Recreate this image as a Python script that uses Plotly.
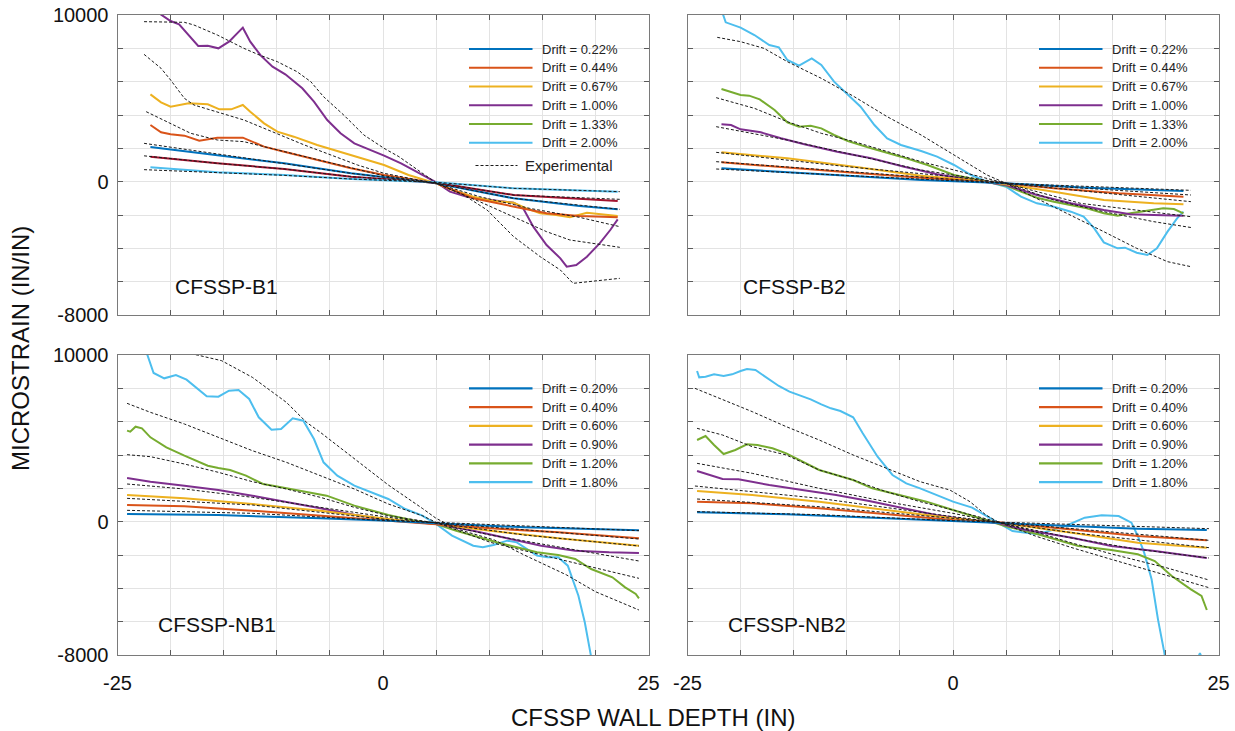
import plotly.graph_objects as go

W, H = 1235, 731

# ---------------- colours (MATLAB default order) ----------------
BLUE, ORANGE, YELLOW, PURPLE, GREEN, LBLUE, CRIMSON = (
    "#0072BD", "#D95319", "#EDB120", "#7E2F8E", "#77AC30", "#4DBEEE", "#A2142F")

# ---------------- axis ticks ----------------
X_TICKS = [-25, -20, -15, -10, -5, 0, 5, 10, 15, 20, 25]
X_LABELS = ["-25", "", "", "", "", "0", "", "", "", "", "25"]
Y_TICKS = [-8000, -6000, -4000, -2000, 0, 2000, 4000, 6000, 8000, 10000]
Y_LABELS = ["-8000", "", "", "", "0", "", "", "", "", "10000"]

# ---------------- legend labels ----------------
B_LEGEND = ["Drift = 0.22%", "Drift = 0.44%", "Drift = 0.67%",
            "Drift = 1.00%", "Drift = 1.33%", "Drift = 2.00%"]
NB_LEGEND = ["Drift = 0.20%", "Drift = 0.40%", "Drift = 0.60%",
             "Drift = 0.90%", "Drift = 1.20%", "Drift = 1.80%"]
LEGEND_COLORS = [BLUE, ORANGE, YELLOW, PURPLE, GREEN, LBLUE]

# ================= CFSSP-B1 (x = depth in, y = microstrain) =================
B1_PURPLE = [(-21.9, 10450), (-20.9, 10000), (-20, 9640), (-19.2, 9440), (-18.3, 8800),
             (-17.4, 8140), (-16.5, 8160), (-15.5, 8000), (-14.5, 8400), (-13.2, 9240),
             (-12.5, 8400), (-11.5, 7560), (-10.4, 6900), (-9.2, 6440), (-7.6, 5600),
             (-6.5, 4800), (-5.25, 3700), (-4.0, 2900), (-2.7, 2300), (-1.15, 1900),
             (0.1, 1560), (1.7, 1100), (3.8, 400), (5.06, -60), (6.3, -600), (7.9, -900),
             (10.1, -1100), (12.3, -1260), (13.2, -1600), (14.15, -2700), (15.4, -3800),
             (16.7, -4600), (17.3, -5100), (18.2, -5000), (19.2, -4500), (20.4, -3700),
             (21.4, -2900), (22.1, -2260)]
B1_YELLOW = [(-21.9, 5240), (-20.9, 4760), (-20, 4500), (-18.3, 4700), (-16.5, 4640),
             (-15.4, 4340), (-14.3, 4340), (-13.2, 4600), (-12.5, 4200), (-11.2, 3500),
             (-9.95, 3000), (-8.4, 2700), (-6.2, 2200), (-3.0, 1600), (0.1, 1000),
             (2.4, 400), (5.0, -100), (6.6, -500), (8.5, -900), (10.4, -1160),
             (12.3, -1260), (13.5, -1600), (14.8, -1900), (16.3, -2000), (17.6, -2140),
             (19.2, -1860), (20.4, -1940), (22.1, -2060)]
B1_ORANGE = [(-21.9, 3400), (-20.9, 2960), (-20, 2840), (-18.7, 2760), (-17.3, 2460),
             (-15.6, 2640), (-13.2, 2640), (-11.2, 2100), (-9.3, 1800), (-6.2, 1300),
             (-3.0, 800), (0.1, 400), (5, -100), (8.5, -1000), (12.3, -1500),
             (15.4, -1900), (18.5, -2060), (22.1, -2140)]
B1_BLUE = [(-21.9, 2080), (-15.6, 1600), (-9.3, 1100), (-3.0, 500), (5, -100),
           (12.3, -1000), (18.5, -1460), (22.1, -1660)]
B1_CRIMSON = [(-21.9, 1500), (-15.6, 1100), (-9.3, 760), (-3, 300), (5, -60),
              (12.3, -800), (22.1, -1160)]
B1_LBLUE = [(-21.9, 860), (-15.6, 560), (-9.3, 400), (-3, 160), (5, -40),
            (12.3, -400), (22.1, -600)]
B1_EXP_1 = [(-22.5, 9600), (-18.7, 9560), (-17.8, 9400), (-15.6, 8800), (-13.1, 8000),
            (-11.8, 7640), (-9.95, 7200), (-8.1, 6600), (-6.8, 6000), (-5.6, 5100),
            (-3.7, 4000), (-1.8, 2800), (0.1, 2000), (1.5, 1500), (5.06, -100),
            (7.6, -800), (9.8, -1700), (12.3, -3300), (14.8, -4500), (16.7, -5300),
            (17.9, -6100), (19.2, -6000), (22.3, -5800)]
B1_EXP_2 = [(-22.5, 7640), (-20.9, 6800), (-20, 6100), (-18.7, 5000), (-17.8, 4600),
            (-15.6, 4200), (-13.1, 3700), (-11.2, 3200), (-9.3, 2700), (-7.4, 2200),
            (-4.9, 1600), (-2.4, 1000), (0.1, 500), (5, -100), (9.1, -1200),
            (12.3, -2100), (15.4, -3000), (17.6, -3500), (22.3, -3940)]
B1_EXP_3 = [(-22.3, 4200), (-20.3, 3600), (-18.1, 2900), (-15.6, 2500), (-13.1, 2400),
            (-11.2, 2100), (-9.3, 1800), (-6.2, 1300), (-3, 800), (0.1, 350), (5, -100),
            (9.1, -900), (13.8, -1600), (18.5, -2140), (22.3, -2700)]
B1_EXP_4 = [(-22.5, 2300), (-15.6, 1650), (-9.3, 1100), (-3, 500), (5, -100),
            (12.3, -1000), (22.3, -1660)]
B1_EXP_5 = [(-22.5, 1550), (-15.6, 1100), (-9.3, 760), (-3, 300), (5, -60),
            (12.3, -800), (22.3, -1060)]
B1_EXP_6 = [(-22.5, 720), (-15.6, 560), (-9.3, 380), (-3, 160), (5, -40),
            (12.3, -400), (22.3, -600)]

# ================= CFSSP-B2 =================
B2_LBLUE = [(-21.8, 10300), (-21.4, 9560), (-20, 9240), (-18.7, 8800), (-17.3, 8200),
            (-16.4, 8060), (-15.6, 7300), (-14.5, 6960), (-13.3, 7400), (-12.4, 7000),
            (-11.2, 6000), (-9.9, 5200), (-8.7, 4500), (-7.4, 3400), (-6.2, 2600),
            (-4.9, 2200), (-3.0, 1840), (-1.5, 1500), (0.1, 1000), (1.7, 400), (3.2, 0),
            (5, -300), (6.4, -900), (7.9, -1300), (9.5, -1500), (11.1, -1800),
            (12.3, -2100), (13.3, -2800), (14.2, -3640), (15.5, -4000), (16.2, -3960),
            (17.3, -4260), (18.3, -4400), (19.2, -4000), (20.2, -3000), (21.1, -2200),
            (21.7, -1800)]
B2_GREEN = [(-21.8, 5560), (-20.9, 5360), (-20, 5200), (-19.2, 5160), (-18.2, 4940),
            (-16.8, 4300), (-15.6, 3560), (-14.5, 3300), (-13.4, 3360), (-12.4, 3200),
            (-11.2, 2800), (-9.9, 2440), (-7.7, 2000), (-4.9, 1500), (-2.4, 1000),
            (0.1, 400), (3.2, 0), (5, -240), (6.4, -600), (7.9, -960), (9.5, -1200),
            (11.1, -1400), (12.6, -1600), (14.2, -1900), (15.5, -2040), (16.7, -1900),
            (18.3, -1760), (19.8, -1600), (20.8, -1640), (21.7, -1900)]
B2_PURPLE = [(-21.8, 3440), (-20.9, 3400), (-20, 3140), (-18.1, 2960), (-16.2, 2600),
             (-14, 2240), (-10.9, 1800), (-7.7, 1400), (-4.6, 900), (-1.5, 440),
             (1.7, 100), (5, -200), (7.9, -800), (11.1, -1300), (14.2, -1700),
             (16.7, -1960), (18.9, -2000), (21.7, -2040)]
B2_YELLOW = [(-21.8, 1760), (-15.6, 1400), (-9.3, 900), (-3.0, 360), (1.7, 100),
             (5, -160), (9.5, -600), (14.2, -1100), (18.9, -1300), (21.7, -1360)]
B2_ORANGE = [(-21.8, 1160), (-15.6, 840), (-9.3, 540), (-3, 240), (5, -100),
             (9.5, -400), (15.6, -700), (21.7, -900)]
B2_BLUE = [(-21.8, 800), (-15.6, 560), (-9.3, 340), (-3, 100), (5, -100),
           (12.6, -360), (21.7, -560)]
B2_EXP_1 = [(-22.2, 8660), (-20, 8400), (-17.8, 8000), (-15.6, 7200), (-12.4, 6200),
            (-9.3, 5100), (-6.2, 3900), (-3, 2800), (0.1, 1600), (3.2, 400), (5, -100),
            (7.9, -1000), (11.1, -2000), (14.2, -3000), (17.3, -4000), (20.2, -4800),
            (22.4, -5100)]
B2_EXP_2 = [(-22.3, 5040), (-18.7, 4400), (-15.6, 3600), (-12.4, 2900), (-9.3, 2400),
            (-6.2, 1800), (-3, 1200), (0.1, 700), (5, -100), (9.5, -1100),
            (14.2, -1800), (18.9, -2400), (22.4, -2750)]
B2_EXP_3 = [(-22.3, 3300), (-15.6, 2500), (-9.3, 1600), (-3, 700), (5, -100),
            (12, -1300), (22.4, -2100)]
B2_EXP_4 = [(-22.3, 1760), (-10, 900), (0, 300), (5, -100), (22.4, -1200)]
B2_EXP_5 = [(-22.3, 1200), (5, -100), (22.4, -800)]
B2_EXP_6 = [(-22.3, 760), (5, -100), (22.4, -520)]

# ================= CFSSP-NB1 =================
NB1_LBLUE = [(-22.4, 10400), (-21.6, 8920), (-20.6, 8600), (-19.5, 8800), (-18.5, 8520),
             (-17.4, 7960), (-16.6, 7520), (-15.5, 7500), (-14.5, 7860), (-13.6, 7900),
             (-12.6, 7360), (-11.7, 6260), (-10.5, 5520), (-9.6, 5560), (-8.5, 6200),
             (-7.5, 6060), (-6.5, 4960), (-5.6, 3560), (-4.3, 2760), (-2.7, 2160),
             (-0.8, 1660), (0.5, 1360), (2.1, 760), (3.7, 360), (5, -140), (6.5, -840),
             (8.5, -1440), (9.4, -1540), (10.4, -1400), (11.7, -1140), (12.6, -1240),
             (13.6, -1640), (14.5, -2040), (15.5, -2140), (16.5, -2140), (17.4, -2640),
             (18.4, -4440), (19.0, -6040), (19.6, -8040), (20.0, -9500)]
NB1_GREEN = [(-24.1, 5460), (-23.8, 5400), (-23.3, 5700), (-22.7, 5600), (-21.9, 5060),
             (-20.4, 4460), (-18.7, 3960), (-16.5, 3360), (-15.5, 3220), (-14.4, 3100),
             (-12.9, 2760), (-11.3, 2260), (-10.1, 2120), (-7.8, 1860), (-5.3, 1560),
             (-2.7, 960), (0.5, 400), (3.0, 60), (5, -140), (6.9, -540), (8.5, -840),
             (10.7, -1240), (12.6, -1540), (14.5, -1840), (16.5, -2000), (18.1, -2240),
             (19.6, -2840), (21.6, -3340), (22.8, -3940), (23.8, -4340), (24.1, -4600)]
NB1_PURPLE = [(-24.1, 2620), (-21.9, 2400), (-18.7, 2160), (-15.5, 1900), (-12.3, 1560),
              (-9.1, 1200), (-5.9, 800), (-2.7, 420), (0.5, 120), (5, -140), (8.5, -540),
              (11.7, -1000), (14.9, -1440), (18.1, -1740), (21.3, -1840), (24.1, -1880)]
NB1_YELLOW = [(-24.1, 1600), (-18.7, 1400), (-12.3, 1060), (-5.9, 660), (0.5, 160),
              (5, -140), (10.1, -540), (16.5, -1000), (24.1, -1440)]
NB1_ORANGE = [(-24.1, 1000), (-18.7, 920), (-12.3, 660), (-5.9, 360), (0.5, 60),
              (5, -140), (10.1, -400), (16.5, -640), (24.1, -1000)]
NB1_BLUE = [(-24.1, 460), (-15.5, 400), (-5.9, 200), (0.5, 60), (5, -100),
            (13.3, -340), (24.1, -520)]
NB1_EXP_1 = [(-24.1, 10800), (-17.5, 10000), (-15.2, 9660), (-12.3, 8660), (-9.1, 7160),
             (-7.2, 5960), (-5.9, 5360), (-2.7, 3760), (0.5, 2200), (3.7, 800), (5, 200),
             (7, -450), (10.5, -1100), (13.3, -2000), (17.3, -3200), (20, -4200),
             (24.1, -5300)]
NB1_EXP_2 = [(-24.1, 7100), (-21.9, 6560), (-18.7, 5860), (-15.5, 5060), (-12.3, 4260),
             (-9.1, 3560), (-5.9, 2760), (-2.7, 1960), (0.5, 1060), (3.7, 360), (5, -40),
             (10.1, -1240), (16.5, -2240), (24.1, -3400)]
NB1_EXP_3 = [(-24.1, 4020), (-21.9, 3900), (-18.7, 3460), (-15.5, 2960), (-12.3, 2400),
             (-9.1, 1960), (-5.9, 1460), (-2.7, 860), (0.5, 360), (5, -80), (10.1, -800),
             (16.5, -1500), (24.1, -2360)]
NB1_EXP_4 = [(-24.1, 2260), (-18.7, 1960), (-12.3, 1460), (-5.9, 860), (0.5, 260),
             (5, -80), (13.3, -800), (24.1, -1460)]
NB1_EXP_5 = [(-24.1, 1400), (-12.3, 1000), (-5.9, 560), (0.5, 120), (5, -60),
             (24.1, -1040)]
NB1_EXP_6 = [(-24.1, 680), (-12.3, 500), (0.5, 60), (5, -40), (24.1, -540)]

# ================= CFSSP-NB2 =================
NB2_LBLUE = [(-24.1, 9040), (-23.9, 8660), (-23.3, 8700), (-22.5, 8840), (-21.6, 8740),
             (-20.8, 8840), (-20, 9040), (-19.4, 9160), (-18.6, 9100), (-17.5, 8640),
             (-16.4, 8140), (-15.4, 7800), (-14.3, 7560), (-13.4, 7340), (-12.4, 7040),
             (-11.5, 6800), (-10.6, 6640), (-9.4, 6260), (-8.5, 5300), (-7.1, 3900),
             (-5.7, 2800), (-4.4, 2300), (-3.1, 2000), (-1.3, 1560), (0, 1200),
             (1.8, 840), (4, 40), (5.6, -560), (8, -760), (10.6, -260), (12.4, 240),
             (14, 380), (15.6, 340), (16.8, -60), (17.4, -860), (18, -1860),
             (18.7, -3460), (19.3, -5860), (19.9, -7860), (20.3, -9500), (22.6, -9500),
             (23.0, -8300), (23.25, -7880), (23.5, -8300)]
NB2_GREEN = [(-24.1, 4900), (-23.3, 5140), (-22.5, 4600), (-21.6, 4060), (-20.5, 4300),
             (-19.4, 4640), (-18.4, 4600), (-17, 4400), (-15.7, 4100), (-14.2, 3600),
             (-12.6, 3100), (-11, 2800), (-9.4, 2500), (-7.6, 2000), (-5, 1600),
             (-2.5, 1200), (0, 700), (2.5, 200), (4.9, -260), (8, -760), (11.8, -1460),
             (14.9, -1700), (17.4, -1960), (19, -2360), (20.6, -3260), (22.4, -4060),
             (23.4, -4460), (23.9, -5300)]
NB2_PURPLE = [(-24.1, 3040), (-21.7, 2560), (-20.2, 2540), (-17.3, 2200), (-14.2, 1900),
              (-11, 1600), (-7.9, 1240), (-4.7, 800), (-1.6, 400), (1.6, 100),
              (4.3, -100), (6.5, -460), (11.2, -960), (14.9, -1460), (19, -1760),
              (23.9, -2180)]
NB2_YELLOW = [(-24.1, 1840), (-18.9, 1600), (-12.6, 1200), (-6.3, 700), (0, 200),
              (4.3, -60), (11.2, -660), (17.4, -1260), (23.9, -1560)]
NB2_ORANGE = [(-24.1, 1200), (-18.9, 1100), (-12.6, 800), (-6.3, 440), (0, 100),
              (4.5, -50), (11.2, -460), (17.4, -860), (23.9, -1120)]
NB2_BLUE = [(-24.1, 560), (-15.7, 440), (-6.3, 200), (0, 40), (4.9, -60), (11.2, -260),
            (17.4, -420), (23.9, -500)]
NB2_EXP_1 = [(-24.3, 8000), (-22, 7400), (-18.9, 6600), (-15.7, 5700), (-12.6, 4900),
             (-9.4, 4000), (-6.3, 3200), (-3.1, 2400), (-0.3, 1900), (1.6, 1200),
             (3.1, 400), (4.2, 0), (7.75, -860), (11.2, -1560), (14.9, -2260),
             (19.9, -3160), (24.1, -3960)]
NB2_EXP_2 = [(-24.1, 5600), (-21.7, 5200), (-18.9, 4500), (-15.7, 4000), (-12.6, 3100),
             (-9.4, 2500), (-6.3, 1800), (-3.1, 1200), (0, 700), (4.2, -20), (8, -660),
             (11.2, -1280), (15, -1950), (20, -2750), (24.1, -3500)]
NB2_EXP_3 = [(-24.1, 3500), (-18.9, 2900), (-12.6, 2000), (-6.3, 1200), (0, 500),
             (4.2, -40), (11, -960), (17.3, -1650), (24.1, -2180)]
NB2_EXP_4 = [(-24.3, 2140), (-12.6, 1400), (0, 300), (4.2, -40), (11.2, -660),
             (24.1, -1560)]
NB2_EXP_5 = [(-24.1, 1360), (-12.6, 900), (0, 200), (4.2, -30), (24.1, -1120)]
NB2_EXP_6 = [(-24.1, 600), (-12.6, 420), (0, 60), (4.2, -20), (24.1, -420)]

PANELS = [
    dict(name="CFSSP-B1", row=1, col=1, legend=B_LEGEND, experimental=True,
         sim=[(B1_PURPLE, PURPLE), (B1_YELLOW, YELLOW), (B1_ORANGE, ORANGE),
              (B1_BLUE, BLUE), (B1_CRIMSON, CRIMSON), (B1_LBLUE, LBLUE)],
         exp=[B1_EXP_1, B1_EXP_2, B1_EXP_3, B1_EXP_4, B1_EXP_5, B1_EXP_6]),
    dict(name="CFSSP-B2", row=1, col=2, legend=B_LEGEND, experimental=False,
         sim=[(B2_LBLUE, LBLUE), (B2_GREEN, GREEN), (B2_PURPLE, PURPLE),
              (B2_YELLOW, YELLOW), (B2_ORANGE, ORANGE), (B2_BLUE, BLUE)],
         exp=[B2_EXP_1, B2_EXP_2, B2_EXP_3, B2_EXP_4, B2_EXP_5, B2_EXP_6]),
    dict(name="CFSSP-NB1", row=2, col=1, legend=NB_LEGEND, experimental=False,
         sim=[(NB1_LBLUE, LBLUE), (NB1_GREEN, GREEN), (NB1_PURPLE, PURPLE),
              (NB1_YELLOW, YELLOW), (NB1_ORANGE, ORANGE), (NB1_BLUE, BLUE)],
         exp=[NB1_EXP_1, NB1_EXP_2, NB1_EXP_3, NB1_EXP_4, NB1_EXP_5, NB1_EXP_6]),
    dict(name="CFSSP-NB2", row=2, col=2, legend=NB_LEGEND, experimental=False,
         sim=[(NB2_LBLUE, LBLUE), (NB2_GREEN, GREEN), (NB2_PURPLE, PURPLE),
              (NB2_YELLOW, YELLOW), (NB2_ORANGE, ORANGE), (NB2_BLUE, BLUE)],
         exp=[NB2_EXP_1, NB2_EXP_2, NB2_EXP_3, NB2_EXP_4, NB2_EXP_5, NB2_EXP_6]),
]

# ---------------- layout geometry (pixels) ----------------
COL_X = {1: (117.5, 648.5), 2: (687.5, 1218.5)}
ROW_Y = {1: (15, 315), 2: (355, 655)}
FONT = "Liberation Sans, Arial, Helvetica, sans-serif"


def px(x):
    return x / W


def py(y):
    return 1 - y / H


fig = go.Figure()
shapes, annotations = [], []
layout_axes = {}

for i, p in enumerate(PANELS, start=1):
    xa = "x" if i == 1 else f"x{i}"
    ya = "y" if i == 1 else f"y{i}"
    for pts, color in p["sim"]:
        fig.add_trace(go.Scatter(
            x=[q[0] for q in pts], y=[q[1] for q in pts], xaxis=xa, yaxis=ya,
            mode="lines", line=dict(color=color, width=2), showlegend=False,
            hoverinfo="x+y"))
    for pts in p["exp"]:
        fig.add_trace(go.Scatter(
            x=[q[0] for q in pts], y=[q[1] for q in pts], xaxis=xa, yaxis=ya,
            mode="lines", line=dict(color="#1a1a1a", width=1, dash="3px,2px"),
            showlegend=False, hoverinfo="x+y"))

    x0, x1 = COL_X[p["col"]]
    y0, y1 = ROW_Y[p["row"]]
    common = dict(showline=True, linecolor="#7a7a7a", linewidth=1, mirror="ticks",
                  ticks="inside", ticklen=5, tickcolor="#5a5a5a", tickwidth=1,
                  showgrid=True, gridcolor="#e3e3e3", gridwidth=1, zeroline=False,
                  tickfont=dict(family=FONT, size=20, color="#111"),
                  automargin=False, fixedrange=True)
    xkey = "xaxis" if i == 1 else f"xaxis{i}"
    ykey = "yaxis" if i == 1 else f"yaxis{i}"
    layout_axes[xkey] = dict(
        common, domain=[px(x0), px(x1)], anchor=ya, range=[-25, 25],
        tickmode="array", tickvals=X_TICKS,
        ticktext=X_LABELS if p["row"] == 2 else [""] * len(X_TICKS),
        ticklabelstandoff=10)
    layout_axes[ykey] = dict(
        common, domain=[py(y1), py(y0)], anchor=xa, range=[-8000, 10000],
        tickmode="array", tickvals=Y_TICKS,
        ticktext=Y_LABELS if p["col"] == 1 else [""] * len(Y_TICKS),
        ticklabelstandoff=4)

    # panel label
    annotations.append(dict(
        x=px(x0 + (55 if p["col"] == 1 else 53) if p["row"] == 1 else x0 + 38),
        y=py(y0 + 272 if p["row"] == 1 else y0 + 269),
        xref="paper", yref="paper", text=p["name"], showarrow=False,
        xanchor="left", yanchor="middle",
        font=dict(family=FONT, size=21, color="#111")))

    # legend (drawn per panel)
    lx0, lx1, tx = x0 + 351.5, x0 + 415, x0 + 422
    ry0 = y0 + 34 if p["row"] == 1 else y0 + 33.3
    for k, (lab, col) in enumerate(zip(p["legend"], LEGEND_COLORS)):
        yy = ry0 + k * 18.75
        shapes.append(dict(type="line", xref="paper", yref="paper",
                           x0=px(lx0), x1=px(lx1), y0=py(yy), y1=py(yy),
                           line=dict(color=col, width=2.2)))
        annotations.append(dict(x=px(tx), y=py(yy), xref="paper", yref="paper",
                                text=lab, showarrow=False, xanchor="left",
                                yanchor="middle",
                                font=dict(family=FONT, size=13, color="#222")))
    if p["experimental"]:
        yy = ry0 + 6 * 18.75 + 4
        shapes.append(dict(type="line", xref="paper", yref="paper",
                           x0=px(x0 + 358), x1=px(x0 + 400), y0=py(yy), y1=py(yy),
                           line=dict(color="#1a1a1a", width=1, dash="3px,2px")))
        annotations.append(dict(x=px(x0 + 405), y=py(yy), xref="paper", yref="paper",
                                text="Experimental", showarrow=False, xanchor="left",
                                yanchor="middle",
                                font=dict(family=FONT, size=15, color="#222")))

# axis titles
annotations.append(dict(x=px(20), y=py(349), xref="paper", yref="paper",
                        text="MICROSTRAIN (IN/IN)", textangle=-90, showarrow=False,
                        xanchor="center", yanchor="middle",
                        font=dict(family=FONT, size=24, color="#111")))
annotations.append(dict(x=px(653), y=py(717), xref="paper", yref="paper",
                        text="CFSSP WALL DEPTH (IN)", showarrow=False,
                        xanchor="center", yanchor="middle",
                        font=dict(family=FONT, size=24, color="#111")))

fig.update_layout(
    template="none", width=W, height=H, autosize=False,
    margin=dict(l=0, r=0, t=0, b=0, pad=0),
    paper_bgcolor="white", plot_bgcolor="white", showlegend=False,
    shapes=shapes, annotations=annotations, **layout_axes)

fig.write_html("out.html", config={"displayModeBar": False},
               post_script="document.body.style.margin='0';"
                           "document.body.style.overflow='hidden';")
